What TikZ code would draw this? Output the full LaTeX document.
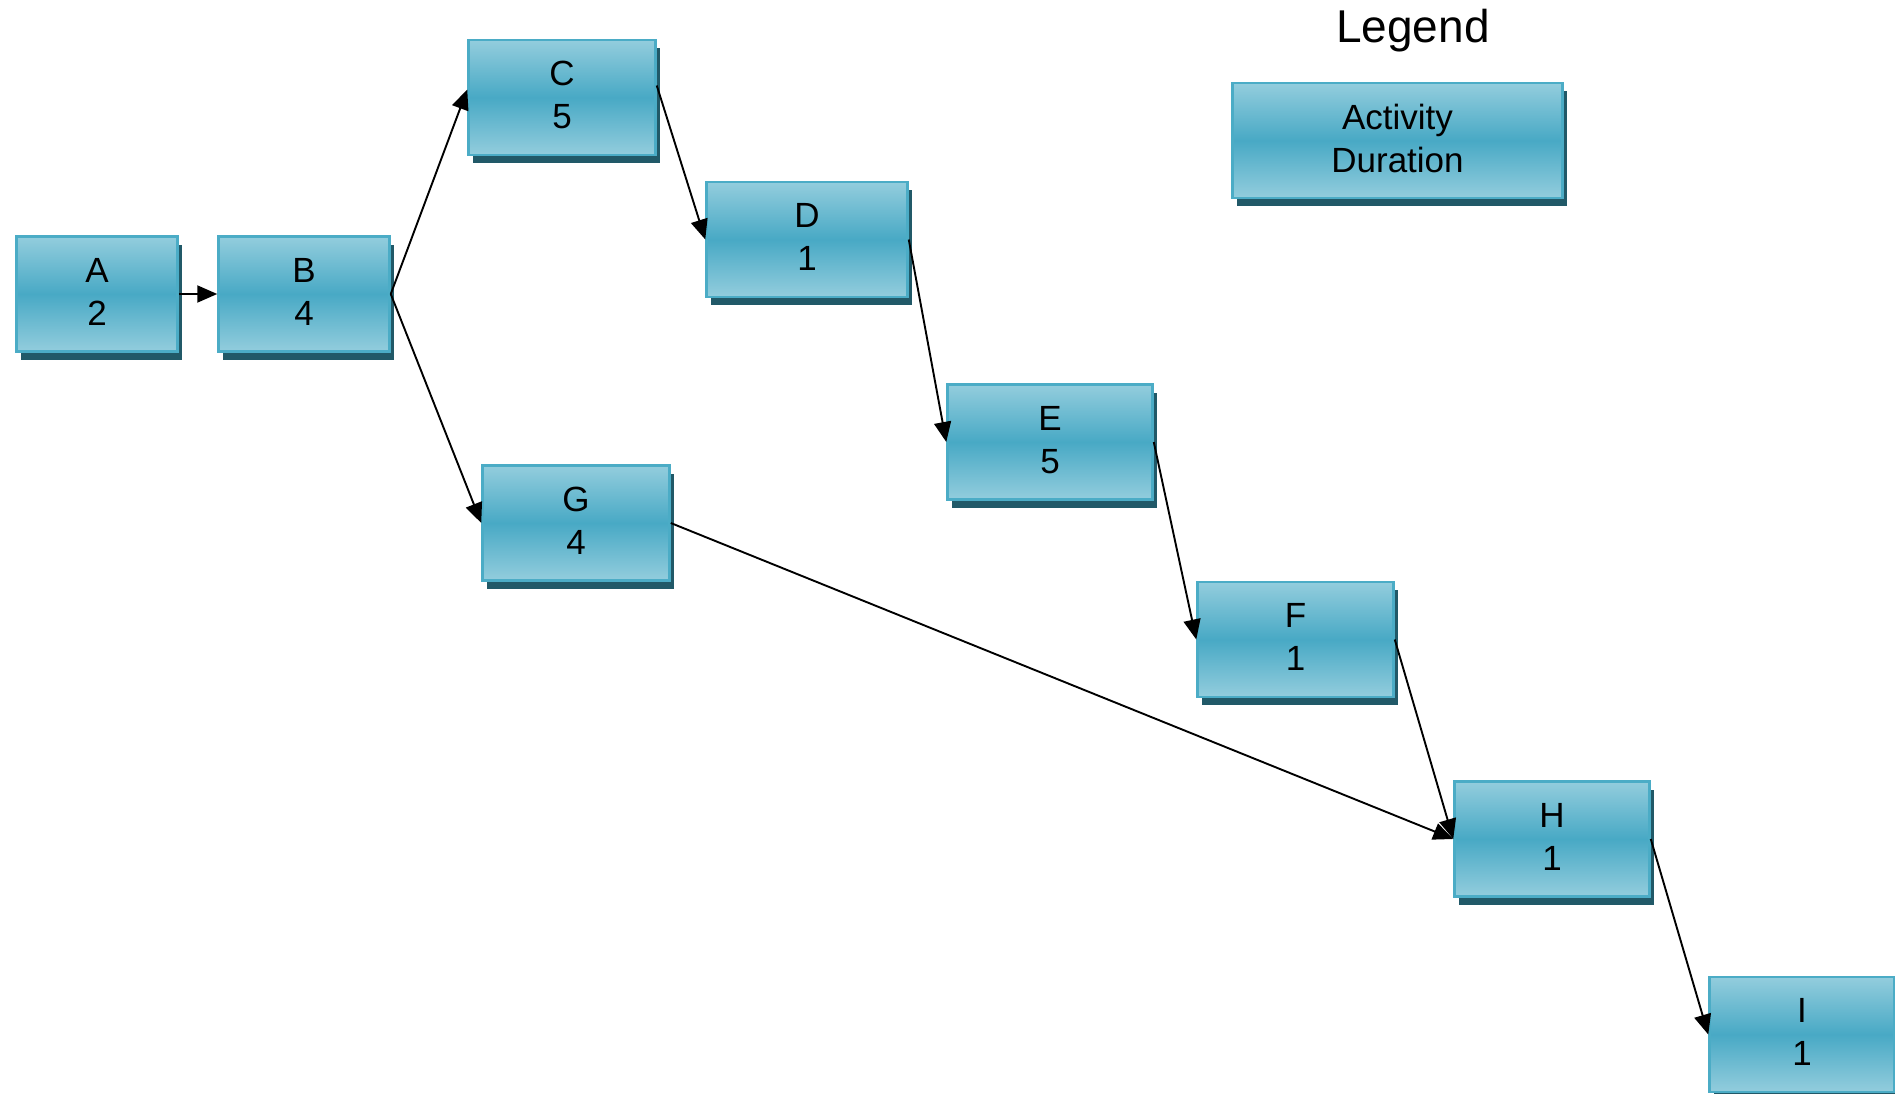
\documentclass[tikz,border=0pt]{standalone}
\usepackage{fontspec}
\setmainfont{Liberation Sans}
\usetikzlibrary{arrows.meta,shadows}
\definecolor{boxlight}{HTML}{93CDDD}
\definecolor{boxmid}{HTML}{48A9C5}
\definecolor{boxborder}{HTML}{4BACC6}
\definecolor{boxshadow}{HTML}{215968}
\tikzset{
  act/.style={rectangle, draw=boxborder, line width=2.5pt,
    top color=boxlight, bottom color=boxlight, middle color=boxmid,
    drop shadow={shadow xshift=4pt, shadow yshift=-8pt, fill=boxshadow, opacity=1},
    minimum height=115pt, inner sep=0pt, align=center,
    font=\fontsize{35}{43}\selectfont, text=black},
  conn/.style={line width=1.9pt, -{Triangle[length=20pt,width=17pt]}},
}
\begin{document}
\begin{tikzpicture}[x=1pt,y=-1pt]
\path[use as bounding box, clip] (0,0) rectangle (1895,1094);
\fill[white] (0,0) rectangle (1895,1094);
\node[act, minimum width=161pt] (A) at (97,294) {A\\2\\[-38pt]};
\node[act, minimum width=171pt] (B) at (304,294) {B\\4\\[-38pt]};
\node[act, minimum width=187pt] (C) at (562,97.5) {C\\5\\[-38pt]};
\node[act, minimum width=201pt] (D) at (807,239.5) {D\\1\\[-38pt]};
\node[act, minimum width=205pt] (E) at (1050,442) {E\\5\\[-38pt]};
\node[act, minimum width=196pt] (F) at (1295.5,639.5) {F\\1\\[-38pt]};
\node[act, minimum width=187pt] (G) at (576,523) {G\\4\\[-38pt]};
\node[act, minimum width=195pt] (H) at (1552,839) {H\\1\\[-38pt]};
\node[act, minimum width=185pt] (I) at (1802,1034.5) {I\\1\\[-38pt]};
\node[act, minimum width=330pt] (L) at (1397.5,140.5) {Activity\\Duration\\[-38pt]};
\node[anchor=base, font=\fontsize{46}{50}\selectfont] (LT) at (1413,43) {Legend};
\draw[conn] (A.east) -- (B.west);
\draw[conn] (B.east) -- ([yshift=8pt]C.west);
\draw[conn] (B.east) -- (G.west);
\draw[conn] ([yshift=12pt]C.east) -- (D.west);
\draw[conn] (D.east) -- (E.west);
\draw[conn] (E.east) -- (F.west);
\draw[conn] (F.east) -- (H.west);
\draw[conn] (G.east) -- (H.west);
\draw[conn] (H.east) -- (I.west);
\end{tikzpicture}
\end{document}
